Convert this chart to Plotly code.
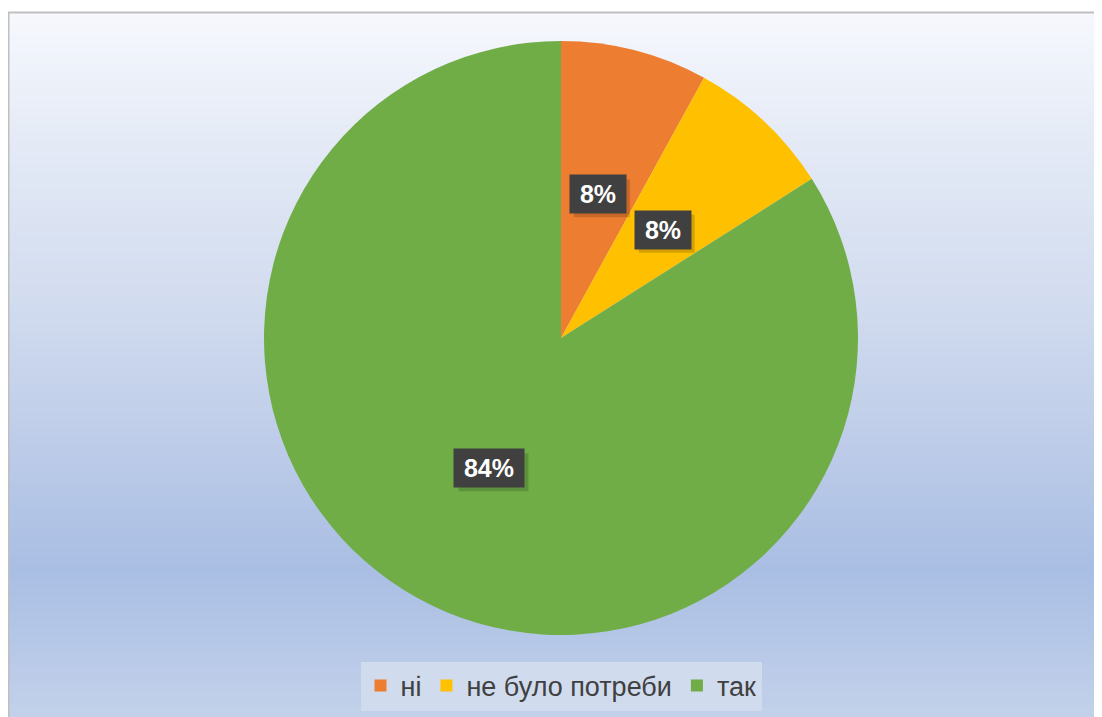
import math
import plotly.graph_objects as go

categories = ["ні", "не було потреби", "так"]
values = [8, 8, 84]
colors = ["#ED7D31", "#FFC000", "#70AD47"]

# browser body margin offsets the figure by 8px; work in page pixels and convert
OFF = 8
W, H = 1102 - OFF, 717 - OFF
CX, CY, R = 561, 338, 297  # pie centre and radius in page pixels


def px_x(x):
    return (x - OFF) / W


def px_y(y):
    return 1 - (y - OFF) / H


fig = go.Figure()
fig.add_trace(go.Pie(
    labels=categories, values=values, sort=False, direction="clockwise", rotation=0,
    marker=dict(colors=colors, line=dict(width=0)),
    textinfo="none", hoverinfo="label+percent",
    domain=dict(x=[px_x(CX - R), px_x(CX + R)], y=[px_y(CY + R), px_y(CY - R)]),
))

# background gradient (chart area) as thin strips
stops = [(12, (246, 248, 253)), (150, (227, 233, 245)), (300, (210, 220, 239)),
         (450, (188, 203, 232)), (570, (169, 190, 227)), (717, (195, 209, 234))]


def col_at(y):
    for (y0, c0), (y1, c1) in zip(stops, stops[1:]):
        if y0 <= y <= y1:
            t = (y - y0) / (y1 - y0)
            return "rgb(%d,%d,%d)" % tuple(round(a + (b - a) * t) for a, b in zip(c0, c1))
    return "rgb(%d,%d,%d)" % stops[-1][1]


shapes = []
step = 4
y = 12
while y < 717:
    y2 = min(y + step, 717)
    shapes.append(dict(type="rect", xref="paper", yref="paper", layer="below",
                       x0=px_x(8), x1=1, y0=px_y(y2), y1=px_y(y),
                       fillcolor=col_at((y + y2) / 2), line=dict(width=0)))
    y = y2
# border lines (left and top)
shapes.append(dict(type="line", xref="paper", yref="paper", layer="below",
                   x0=px_x(8.5), x1=px_x(8.5), y0=0, y1=px_y(12), line=dict(color="#BFBFBF", width=2)))
shapes.append(dict(type="line", xref="paper", yref="paper", layer="below",
                   x0=px_x(8), x1=1, y0=px_y(12.5), y1=px_y(12.5), line=dict(color="#BFBFBF", width=2)))

# data labels at the middle of each slice, half the radius out
total = sum(values)
annotations = []
cum = 0
for v in values:
    mid = (cum + v / 2) / total * 2 * math.pi
    cum += v
    lx = CX + 0.5 * R * math.sin(mid)
    ly = CY - 0.5 * R * math.cos(mid)
    s = "%d%%" % round(v / total * 100)
    bw = 14 * len(s) + 28
    bh = 38
    # soft shadow box
    shapes.append(dict(type="rect", xref="paper", yref="paper", layer="above",
                       x0=px_x(lx - bw / 2 + 4), x1=px_x(lx + bw / 2 + 4),
                       y0=px_y(ly + bh / 2 + 4), y1=px_y(ly - bh / 2 + 4),
                       fillcolor="rgba(0,0,0,0.16)", line=dict(width=0)))
    annotations.append(dict(x=px_x(lx), y=px_y(ly), xref="paper", yref="paper",
                            xanchor="center", yanchor="middle",
                            text="<b>%s</b>" % s, showarrow=False, bgcolor="#404040",
                            width=bw - 14, height=bh - 14, borderpad=7,
                            font=dict(size=25, color="white", family="Liberation Sans, Arial")))

fig.update_layout(
    width=W, height=H, margin=dict(l=0, r=0, t=0, b=0),
    paper_bgcolor="white", plot_bgcolor="rgba(0,0,0,0)",
    shapes=shapes, annotations=annotations,
    showlegend=True,
    legend=dict(orientation="h", x=px_x(CX), xanchor="center", y=px_y(686), yanchor="middle",
                bgcolor="#D0DBEE", font=dict(size=27, color="#404040", family="Liberation Sans, Arial"),
                itemwidth=30, traceorder="normal"),
)

fig.write_html("out.html")
